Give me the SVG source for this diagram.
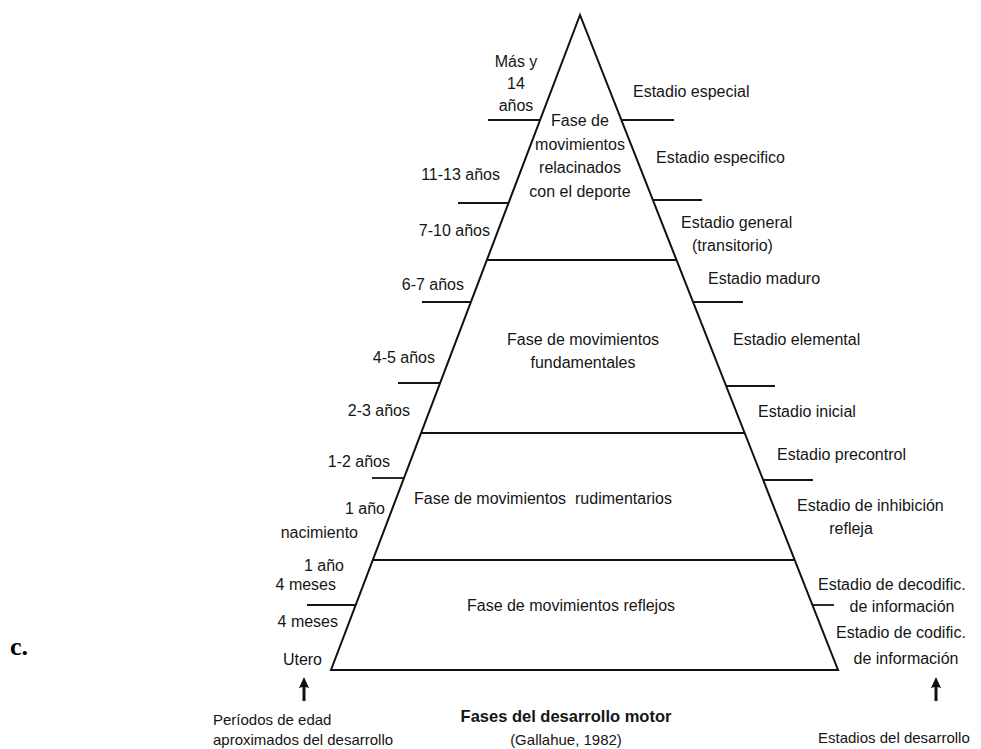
<svg xmlns="http://www.w3.org/2000/svg" width="981" height="749" viewBox="0 0 981 749">
<style>
text{font-family:"Liberation Sans",Arial,sans-serif;font-size:16px;fill:#151515}
.l{text-anchor:end}
.c{text-anchor:middle}
.sm{font-size:15px}
.ln{stroke:#111;stroke-width:2;fill:none}
.tk{stroke:#151515;stroke-width:1.8}
.ar{fill:#111;stroke:none}
.title{font-weight:bold;font-size:16.5px}
.tag{font-family:"Liberation Serif","Times New Roman",serif;font-weight:bold;font-size:26px;fill:#000}
</style>
<rect width="981" height="749" fill="#fff"/>
<text class="tag" x="10" y="655">c.</text>

<g id="pyramid">
<polygon class="ln" points="580,15 331,670 838,670"/>
</g>

<g id="connectors">
<line class="ln" x1="487" y1="260" x2="677" y2="260"/>
<line class="ln" x1="421" y1="433" x2="745" y2="433"/>
<line class="ln" x1="373" y1="560" x2="795" y2="560"/>
<line class="tk" x1="488" y1="120" x2="540" y2="120"/>
<line class="tk" x1="458" y1="203" x2="509" y2="203"/>
<line class="tk" x1="422" y1="302" x2="471" y2="302"/>
<line class="tk" x1="398" y1="383" x2="440" y2="383"/>
<line class="tk" x1="372" y1="478" x2="404" y2="478"/>
<line class="tk" x1="307" y1="605" x2="356" y2="605"/>
<line class="tk" x1="621" y1="120" x2="674" y2="120"/>
<line class="tk" x1="653" y1="200" x2="702" y2="200"/>
<line class="tk" x1="693" y1="302" x2="743" y2="302"/>
<line class="tk" x1="726" y1="386" x2="775" y2="386"/>
<line class="tk" x1="763" y1="480" x2="813" y2="480"/>
<line class="tk" x1="812" y1="605" x2="834" y2="605"/>
<path class="ar" d="M304,677 L309,688 L305.5,687 L305.5,701 L302.5,701 L302.5,687 L299,688 Z"/>
<path class="ar" d="M936,677 L941,688 L937.5,687 L937.5,701 L934.5,701 L934.5,687 L931,688 Z"/>
</g>

<g id="fase-deporte">
<text class="c" x="580" y="126">Fase de</text>
<text class="c" x="580" y="150">movimientos</text>
<text class="c" x="580" y="173">relacinados</text>
<text class="c" x="580" y="197">con el deporte</text>
</g>
<g id="fase-fundamentales">
<text class="c" x="583" y="345">Fase de movimientos</text>
<text class="c" x="583" y="368">fundamentales</text>
</g>
<g id="fase-rudimentarios">
<text class="c" x="543" y="504" xml:space="preserve">Fase de movimientos  rudimentarios</text>
</g>
<g id="fase-reflejos">
<text class="c" x="571" y="611">Fase de movimientos reflejos</text>
</g>

<g id="edades">
<text class="c" x="516" y="67">Más y</text>
<text class="c" x="516" y="89">14</text>
<text class="c" x="516" y="111">años</text>
<text class="l" x="500" y="180">11-13 años</text>
<text class="l" x="490" y="236">7-10 años</text>
<text class="l" x="464" y="290">6-7 años</text>
<text class="l" x="435" y="363">4-5 años</text>
<text class="l" x="410" y="416">2-3 años</text>
<text class="l" x="390" y="467">1-2 años</text>
<text class="l" x="385" y="514">1 año</text>
<text class="l" x="358" y="538">nacimiento</text>
<text class="l" x="344" y="571">1 año</text>
<text class="l" x="336" y="590">4 meses</text>
<text class="l" x="338" y="627">4 meses</text>
<text class="l" x="322" y="665">Utero</text>
</g>

<g id="estadios">
<text x="633" y="97">Estadio especial</text>
<text x="656" y="163">Estadio especifico</text>
<text x="681" y="228">Estadio general</text>
<text x="692" y="251">(transitorio)</text>
<text x="708" y="284">Estadio maduro</text>
<text x="733" y="345">Estadio elemental</text>
<text x="758" y="417">Estadio inicial</text>
<text x="777" y="460">Estadio precontrol</text>
<text x="797" y="511">Estadio de inhibición</text>
<text class="c" x="851" y="534">refleja</text>
<text x="818" y="590">Estadio de decodific.</text>
<text class="c" x="902" y="612">de información</text>
<text x="836" y="638">Estadio de codific.</text>
<text class="c" x="906" y="664">de información</text>
</g>

<g id="caption-left">
<text class="sm" x="213" y="725">Períodos de edad</text>
<text class="sm" x="213" y="745">aproximados del desarrollo</text>
</g>
<g id="caption-title">
<text class="c title" x="566" y="722">Fases del desarrollo motor</text>
<text class="c sm" x="566" y="745">(Gallahue, 1982)</text>
</g>
<g id="caption-right">
<text class="sm" x="818" y="743">Estadios del desarrollo</text>
</g>
</svg>
